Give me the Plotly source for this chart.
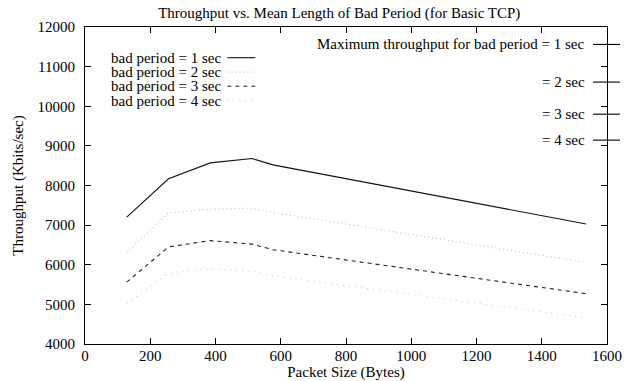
import plotly.graph_objects as go

# ---- data ----
packet_size = [128, 256, 384, 512, 576, 1536]
bad_1s = [7200, 8170, 8570, 8680, 8520, 7030]
bad_2s = [6300, 7310, 7400, 7430, 7320, 6060]
bad_3s = [5560, 6450, 6610, 6520, 6380, 5270]
bad_4s = [5010, 5790, 5900, 5840, 5720, 4660]

series_names = ["bad period = 1 sec", "bad period = 2 sec",
                "bad period = 3 sec", "bad period = 4 sec"]
max_labels = ["Maximum throughput for bad period = 1 sec", "= 2 sec", "= 3 sec", "= 4 sec"]
max_values = [11560, 10610, 9800, 9145]

x_ticks = [0, 200, 400, 600, 800, 1000, 1200, 1400, 1600]
y_ticks = [4000, 5000, 6000, 7000, 8000, 9000, 10000, 11000, 12000]

FONT = "Liberation Serif"
styles = [
    dict(color="#111111", width=1.1, dash="solid"),
    dict(color="#c4c4c4", width=1.2, dash="1px,3px"),
    dict(color="#222222", width=1.1, dash="4px,4px"),
    dict(color="#cfcfcf", width=1.2, dash="1px,5px"),
]

fig = go.Figure()
for name, ys, st in zip(series_names, [bad_1s, bad_2s, bad_3s, bad_4s], styles):
    fig.add_trace(go.Scatter(x=packet_size, y=ys, mode="lines", name=name,
                             line=st, showlegend=False))

# plot area in pixels
L, R, T, B = 84.5, 607.0, 26.5, 344.5
W, H = 624, 381
pw, ph = R - L, B - T

def px2paper_x(px):
    return (px - L) / pw

def px2paper_y(py):
    return (B - py) / ph

# manual legend (text on left, sample on right)
leg_rows = [57.3, 71.7, 86.0, 100.3]
for name, st, py in zip(series_names, styles, leg_rows):
    fig.add_annotation(x=px2paper_x(223), y=px2paper_y(py), xref="paper", yref="paper",
                       text=name, showarrow=False, xanchor="right", yanchor="middle",
                       font=dict(family=FONT, size=15, color="black"))
    fig.add_shape(type="line", xref="paper", yref="paper",
                  x0=px2paper_x(227), x1=px2paper_x(255),
                  y0=px2paper_y(py), y1=px2paper_y(py), line=st)

# maximum throughput markers on right axis
for lab, v in zip(max_labels, max_values):
    fig.add_shape(type="line", xref="paper", yref="y",
                  x0=px2paper_x(593), x1=px2paper_x(620), y0=v, y1=v,
                  line=dict(color="black", width=1.1))
    fig.add_annotation(x=px2paper_x(587), y=v, xref="paper", yref="y",
                       text=lab, showarrow=False, xanchor="right", yanchor="middle",
                       font=dict(family=FONT, size=15, color="black"))

axis_common = dict(showgrid=False, zeroline=False, showline=True, linecolor="black",
                   linewidth=1, mirror="ticks", ticks="inside", ticklen=6,
                   tickcolor="black", tickwidth=1, automargin=False,
                   tickfont=dict(family=FONT, size=15, color="black"))

fig.update_xaxes(range=[0, 1600], tickvals=x_ticks, ticktext=[str(t) for t in x_ticks],
                 title=dict(text="Packet Size (Bytes)", standoff=0,
                            font=dict(family=FONT, size=15, color="black")),
                 ticklabelstandoff=-2, **axis_common)
fig.update_yaxes(range=[4000, 12000], tickvals=y_ticks, ticktext=[str(t) for t in y_ticks],
                 title=dict(text="Throughput (Kbits/sec)", standoff=10,
                            font=dict(family=FONT, size=15, color="black")),
                 ticklabelstandoff=6, **axis_common)

fig.update_layout(
    width=W, height=H,
    margin=dict(l=L, r=W - R, t=T, b=H - B, pad=0, autoexpand=False),
    paper_bgcolor="white", plot_bgcolor="white",
    title=dict(text="Throughput vs. Mean Length of Bad Period (for Basic TCP)",
               xref="paper", x=(339 - L) / pw, xanchor="center",
               yref="container", y=1 - 13 / H, yanchor="middle",
               font=dict(family=FONT, size=15, color="black")),
    font=dict(family=FONT, size=15, color="black"),
)

fig.write_html("out.html")
